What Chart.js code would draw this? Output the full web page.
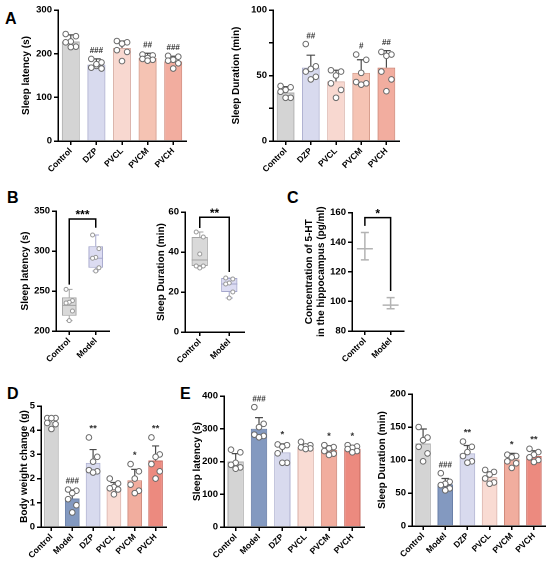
<!DOCTYPE html>
<html><head><meta charset="utf-8">
<script src="https://cdn.jsdelivr.net/npm/chart.js@4.4.1/dist/chart.umd.min.js"></script>
<style>
html,body{margin:0;padding:0;background:#fff;}
body{width:550px;height:564px;position:relative;overflow:hidden;font-family:"Liberation Sans",Arial,sans-serif;}
canvas{position:absolute;}
.lbl{position:absolute;font-weight:bold;font-size:16px;line-height:16px;color:#000;}
</style></head><body>
<div class="lbl" style="left:5px;top:11px">A</div>
<div class="lbl" style="left:7px;top:190px">B</div>
<div class="lbl" style="left:287px;top:190px">C</div>
<div class="lbl" style="left:7px;top:386px">D</div>
<div class="lbl" style="left:180px;top:386px">E</div>
<canvas id="a1"></canvas><canvas id="a2"></canvas>
<canvas id="b1"></canvas><canvas id="b2"></canvas><canvas id="c1"></canvas>
<canvas id="d1"></canvas><canvas id="e1"></canvas><canvas id="e2"></canvas>
<script>
// ---------- DATA ----------
const groupsA = ['Control','DZP','PVCL','PVCM','PVCH'];
const groupsDE = ['Control','Model','DZP','PVCL','PVCM','PVCH'];
const groupsBC = ['Control','Model'];

// Panel A
const aLatencyMean = [228,175,213,190,182];
const aLatencySD = [15,13,16,11,12];
const aLatencyDots = [[245,240,228,226,216,215],[188,180,172,168,166,176],[229,226,223,208,204,183],[198,196,190,188,186,184],[195,193,186,184,178,166]];
const aLatencySig = ['','###','','##','###'];
const aLatencyTicks = [0,100,200,300];

const aDurationMean = [37,56,45.5,52,56];
const aDurationSD = [4.5,9.5,8.5,10,13];
const aDurationDots = [[42,41,39,37.6,33,33],[74,57,55,53,49,47],[54,53,50,44,39,33],[66,62,52,45,44,43],[68,66,65,53,47,38]];
const aDurationSig = ['','##','','#','##'];
const aDurationTicks = [0,25,50,75,100];
const aDurationTickLabels = ['0','','50','','100'];

// Panel B (box plots)
const bLatencyMin = [213,275];
const bLatencyQ1 = [219,279];
const bLatencyMedian = [232,291];
const bLatencyQ3 = [242,306];
const bLatencyMax = [252,320];
const bLatencyDots = [[252,238,236,235,225,213],[320,303,292,291,279,275]];
const bLatencyBracket = [340,258,329]; // top, left end, right end
const bLatencySig = '***';

const bDurationMin = [32,17];
const bDurationQ1 = [33,20];
const bDurationMedian = [36,24];
const bDurationQ3 = [47.5,27];
const bDurationMax = [50,27];
const bDurationDots = [[50,47.5,39,33,33,32],[27,26.5,24.5,24,20,17]];
const bDurationBracket = [57.4,52,30];
const bDurationSig = '**';

// Panel C
const c5htMean = [135.5,97.5];
const c5htLow = [128,95];
const c5htHigh = [146.5,102.5];
const c5htBracket = [156.5,151,107];
const c5htSig = '*';

// Panel D
const dWeightMean = [4.35,1.18,2.65,1.62,1.93,2.75];
const dWeightSD = [0.18,0.35,0.55,0.22,0.45,0.6];
const dWeightDots = [[4.5,4.5,4.5,4.3,4.25,4.05],[1.55,1.5,1.4,1.15,0.9,0.6],[3.7,2.9,2.7,2.35,2.3,2.25],[2.0,1.8,1.65,1.6,1.55,1.35],[2.6,2.3,2.0,1.75,1.5,1.4],[3.7,3.0,2.9,2.6,2.3,2.0]];
const dWeightSig = ['','###','**','','*','**'];

// Panel E
const eLatencyMean = [200,300,228,243,235,239];
const eLatencySD = [24,34,26,10,13,10];
const eLatencyDots = [[236,228,196,190,182,178],[366,315,305,282,278,274],[252,250,245,225,196,196],[260,250,246,243,240,238],[250,244,240,232,224,220],[250,246,242,238,232,228]];
const eLatencySig = ['','###','*','','*','*'];

const eDurationMean = [125,63,110,74,101,106];
const eDurationSD = [22,9,12,8,9,8];
const eDurationDots = [[150,134,130,120,110,98],[80,67,64,62,57,54],[128,120,112,106,98,96],[85,82,78,72,66,64],[108,106,104,98,95,88],[117,112,108,104,100,97]];
const eDurationSig = ['','###','**','','*','**'];

// ---------- STYLE ----------
const F = '"Liberation Sans", Arial, sans-serif';
const colA = ['#d4d4d4','#d8daee','#f8d8d0','#f5c3b3','#f2ad9f'];
const borA = ['#a9a9a9','#aeb0d0','#d9afa6','#d69d8c','#d08878'];
const colDE = ['#d4d4d4','#8399c0','#d8daee','#f9dbd3','#f1ad9e','#ec8a7f'];
const borDE = ['#a9a9a9','#6a80a8','#aeb0d0','#d9afa6','#cf8a7b','#c96a60'];
const JIT = [-0.2,0.2,0,-0.2,0.2,0];

function place(id, s){
  const c = document.getElementById(id);
  const w = s.L + (s.x1 - s.x0) + s.R, h = s.T + (s.y1 - s.y0) + s.B;
  c.width = w; c.height = h;
  c.style.left = (s.x0 - s.L) + 'px'; c.style.top = (s.y0 - s.T) + 'px';
  c.style.width = w + 'px'; c.style.height = h + 'px';
  return c;
}
function yScale(s, min, max, step, title, cb){
  return {
    min, max,
    ticks:{stepSize:step, color:'#000', font:{family:F, weight:'bold', size:9.5}, padding:2, callback: cb || (v=>v)},
    grid:{display:true, drawOnChartArea:false, drawTicks:true, tickLength:4, color:'#000', lineWidth:1.5},
    border:{display:true, color:'#000', width:1.5},
    title:{display:true, text:title, color:'#000', font:{family:F, weight:'bold', size:10}, padding:{top:0,bottom:3}},
    afterFit(sc){ sc.width = s.L; }
  };
}
function xScale(s){
  return {
    offset:true,
    grid:{display:true, offset:false, drawOnChartArea:false, drawTicks:true, tickLength:4, color:'#000', lineWidth:1.5},
    border:{display:true, color:'#000', width:1.5},
    ticks:{minRotation:45, maxRotation:45, autoSkip:false, color:'#000', font:{family:F, weight:'bold', size:8.5}, padding:1},
    afterFit(sc){ sc.height = s.B; }
  };
}
const jitterPlugin = {
  id:'jitter',
  afterDatasetsUpdate(chart){
    chart.data.datasets.forEach((ds, i) => {
      if(!ds.jitter) return;
      const meta = chart.getDatasetMeta(i);
      const xs = chart.scales.x;
      const cw = xs.width / chart.data.labels.length;
      const counts = {};
      meta.data.forEach((pt, j) => {
        const c = ds.data[j].x;
        const k = counts[c] || 0; counts[c] = k + 1;
        pt.x += JIT[k % JIT.length] * cw * (ds.jitterScale || 1);
      });
    });
  }
};
function dotData(cats, dots){
  return dots.flatMap((arr, i) => arr.map(v => ({x:cats[i], y:v})));
}
function errPlugin(means, sds, dots, sigs){
  return {
    id:'errbars',
    afterDatasetDraw(chart, args){
      if(args.index !== 0) return;
      const ctx = chart.ctx, x = chart.scales.x, y = chart.scales.y;
      const cap = x.width / chart.data.labels.length * 0.17;
      ctx.save(); ctx.strokeStyle = '#4a4a4a'; ctx.lineWidth = 1.2;
      means.forEach((m, i) => {
        const px = x.getPixelForValue(i), pt = y.getPixelForValue(m + sds[i]), pm = y.getPixelForValue(m);
        ctx.beginPath(); ctx.moveTo(px, pm); ctx.lineTo(px, pt);
        ctx.moveTo(px - cap, pt); ctx.lineTo(px + cap, pt); ctx.stroke();
      });
      ctx.restore();
    },
    afterDatasetsDraw(chart){
      const ctx = chart.ctx, x = chart.scales.x, y = chart.scales.y;
      ctx.save(); ctx.fillStyle = '#333'; ctx.textAlign = 'center'; ctx.textBaseline = 'bottom';
      sigs.forEach((t, i) => {
        if(!t) return;
        ctx.font = 'bold ' + (t[0] === '*' ? 9.5 : 8) + 'px ' + F;
        const top = Math.max(means[i] + sds[i], Math.max(...dots[i]));
        ctx.fillText(t, x.getPixelForValue(i), y.getPixelForValue(top) - 4);
      });
      ctx.restore();
    }
  };
}
function bracketPlugin(br, text, size){
  return {
    id:'bracket',
    afterDatasetsDraw(chart){
      const ctx = chart.ctx, x = chart.scales.x, y = chart.scales.y;
      const x0 = x.getPixelForValue(0), x1 = x.getPixelForValue(1), yt = y.getPixelForValue(br[0]);
      ctx.save(); ctx.strokeStyle = '#000'; ctx.lineWidth = 1.5;
      ctx.beginPath(); ctx.moveTo(x0, y.getPixelForValue(br[1])); ctx.lineTo(x0, yt); ctx.lineTo(x1, yt); ctx.lineTo(x1, y.getPixelForValue(br[2])); ctx.stroke();
      ctx.fillStyle = '#000'; ctx.textAlign = 'center'; ctx.textBaseline = 'alphabetic';
      ctx.font = 'bold ' + size + 'px ' + F;
      ctx.fillText(text, (x0 + x1) / 2, yt + size * 0.05 - 1);
      ctx.restore();
    }
  };
}
function boxPlugin(mins, meds, maxs, q1s, q3s, borders){
  return {
    id:'boxwhisk',
    afterDatasetDraw(chart, args){
      if(args.index !== 0) return;
      const ctx = chart.ctx, y = chart.scales.y;
      const meta = chart.getDatasetMeta(0);
      ctx.save(); ctx.lineWidth = 1;
      meta.data.forEach((el, i) => {
        const px = el.x, hw = el.width / 2;
        ctx.strokeStyle = borders[i];
        const ymin = y.getPixelForValue(mins[i]), ymax = y.getPixelForValue(maxs[i]);
        ctx.beginPath();
        ctx.moveTo(px, y.getPixelForValue(q3s[i])); ctx.lineTo(px, ymax);
        ctx.moveTo(px, y.getPixelForValue(q1s[i])); ctx.lineTo(px, ymin);
        ctx.moveTo(px - hw * 0.45, ymax); ctx.lineTo(px + hw * 0.45, ymax);
        ctx.moveTo(px - hw * 0.45, ymin); ctx.lineTo(px + hw * 0.45, ymin);
        const ym = y.getPixelForValue(meds[i]);
        ctx.moveTo(px - hw, ym); ctx.lineTo(px + hw, ym);
        ctx.stroke();
      });
      ctx.restore();
    }
  };
}
function baseOptions(s, yopt){
  return {
    responsive:false, animation:false, events:[], devicePixelRatio:2,
    layout:{padding:{top:s.T, right:s.R, left:0, bottom:0}},
    plugins:{legend:{display:false}, tooltip:{enabled:false}},
    scales:{x:xScale(s), y:yopt}
  };
}
function barChart(id, s, cats, means, sds, dots, sigs, cols, bors, yopt){
  const c = place(id, s);
  return new Chart(c, {
    type:'bar',
    data:{labels:cats, datasets:[
      {type:'bar', data:means, backgroundColor:cols, borderColor:bors, borderWidth:1, barPercentage:0.7, categoryPercentage:1, order:2},
      {type:'scatter', jitter:true, data:dotData(cats, dots), backgroundColor:'#fff', borderColor:'#6a6a6a', borderWidth:1, pointRadius:2.8, order:1}
    ]},
    options:baseOptions(s, yopt),
    plugins:[jitterPlugin, errPlugin(means, sds, dots, sigs)]
  });
}
function boxChart(id, s, cats, mins, q1s, meds, q3s, maxs, dots, br, sig, yopt){
  const c = place(id, s);
  const cols = ['#d9d9d9','#dcdcf2'], bors = ['#a3a3a3','#a5a7cc'];
  return new Chart(c, {
    type:'bar',
    data:{labels:cats, datasets:[
      {type:'bar', data:q1s.map((q, i) => [q, q3s[i]]), backgroundColor:cols, borderColor:bors, borderWidth:1, borderSkipped:false, barPercentage:0.55, categoryPercentage:1, order:2},
      {type:'scatter', jitter:true, jitterScale:0.6, data:dotData(cats, dots), backgroundColor:'#fff', borderColor:'#999', borderWidth:1, pointRadius:2, order:1}
    ]},
    options:baseOptions(s, yopt),
    plugins:[jitterPlugin, boxPlugin(mins, meds, maxs, q1s, q3s, bors), bracketPlugin(br, sig, 12)]
  });
}

// ---------- CHARTS ----------
const sA1 = {x0:58, x1:187, y0:10, y1:141, L:38, T:8, R:4, B:42};
barChart('a1', sA1, groupsA, aLatencyMean, aLatencySD, aLatencyDots, aLatencySig, colA, borA,
  yScale(sA1, 0, 300, 100, 'Sleep latency (s)'));

const sA2 = {x0:273, x1:400, y0:10, y1:141, L:43, T:8, R:4, B:42};
barChart('a2', sA2, groupsA, aDurationMean, aDurationSD, aDurationDots, aDurationSig, colA, borA,
  yScale(sA2, 0, 100, 25, 'Sleep Duration (min)', v => aDurationTickLabels[aDurationTicks.indexOf(v)]));

const sB1 = {x0:56, x1:110, y0:211, y1:331, L:37, T:8, R:4, B:40};
boxChart('b1', sB1, groupsBC, bLatencyMin, bLatencyQ1, bLatencyMedian, bLatencyQ3, bLatencyMax, bLatencyDots, bLatencyBracket, bLatencySig,
  yScale(sB1, 200, 350, 50, 'Sleep latency (s)'));

const sB2 = {x0:185, x1:245, y0:212, y1:332, L:30, T:8, R:4, B:40};
boxChart('b2', sB2, groupsBC, bDurationMin, bDurationQ1, bDurationMedian, bDurationQ3, bDurationMax, bDurationDots, bDurationBracket, bDurationSig,
  yScale(sB2, 0, 60, 20, 'Sleep Duration (min)'));

// Panel C
(function(){
  const s = {x0:352, x1:409, y0:211, y1:331, L:49, T:8, R:4, B:40};
  const c = place('c1', s);
  const opts = baseOptions(s, yScale(s, 80, 160, 20, ['Concentration of 5-HT','in the hippocampus (pg/ml)']));
  const rangePlugin = {
    id:'range',
    afterDatasetsDraw(chart){
      const ctx = chart.ctx, x = chart.scales.x, y = chart.scales.y;
      ctx.save(); ctx.strokeStyle = '#b3b3b3'; ctx.lineWidth = 1.5;
      c5htMean.forEach((m, i) => {
        const px = x.getPixelForValue(i), yl = y.getPixelForValue(c5htLow[i]), yh = y.getPixelForValue(c5htHigh[i]);
        ctx.beginPath(); ctx.moveTo(px, yl); ctx.lineTo(px, yh);
        ctx.moveTo(px - 4, yl); ctx.lineTo(px + 4, yl);
        ctx.moveTo(px - 4, yh); ctx.lineTo(px + 4, yh); ctx.stroke();
      });
      ctx.restore();
    }
  };
  new Chart(c, {
    type:'line',
    data:{labels:groupsBC, datasets:[
      {data:c5htMean, showLine:false, pointStyle:'line', pointRadius:8, borderColor:'#b3b3b3', borderWidth:1.5}
    ]},
    options:opts,
    plugins:[rangePlugin, bracketPlugin(c5htBracket, c5htSig, 12)]
  });
})();

const sD = {x0:41, x1:167, y0:406, y1:527, L:23, T:8, R:4, B:37};
barChart('d1', sD, groupsDE, dWeightMean, dWeightSD, dWeightDots, dWeightSig, colDE, borDE,
  yScale(sD, 0, 5, 1, 'Body weight change (g)'));

const sE1 = {x0:224, x1:365, y0:396, y1:527, L:33, T:8, R:4, B:37};
barChart('e1', sE1, groupsDE, eLatencyMean, eLatencySD, eLatencyDots, eLatencySig, colDE, borDE,
  yScale(sE1, 0, 400, 100, 'Sleep latency (s)'));

const sE2 = {x0:412, x1:548, y0:394, y1:526, L:36, T:8, R:2, B:38};
barChart('e2', sE2, groupsDE, eDurationMean, eDurationSD, eDurationDots, eDurationSig, colDE, borDE,
  yScale(sE2, 0, 200, 50, 'Sleep Duration (min)'));
</script>
</body></html>
